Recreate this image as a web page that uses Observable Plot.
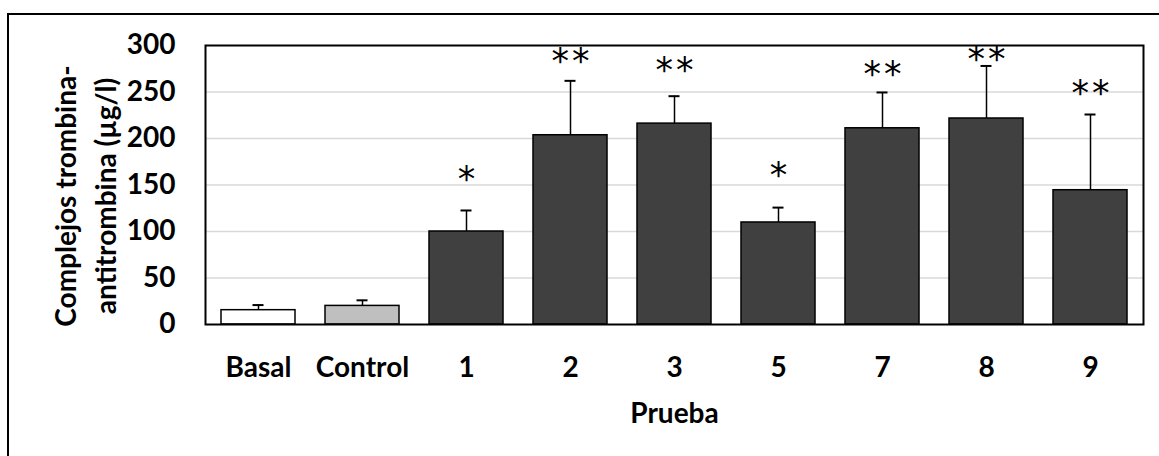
<!DOCTYPE html>
<html><head><meta charset="utf-8">
<script src="https://cdn.jsdelivr.net/npm/d3@7"></script>
<script src="https://cdn.jsdelivr.net/npm/@observablehq/plot@0.6"></script>
<style>
html,body{margin:0;padding:0;background:#fff;}
#wrap{position:relative;width:1159px;height:456px;overflow:hidden;background:#fff;}
#border{position:absolute;left:7px;top:13px;width:1200px;height:500px;border:2px solid #000;box-sizing:border-box;}
#chart{position:absolute;left:0;top:0;}
.sig text{letter-spacing:3px;}
</style></head><body>
<div id="wrap"><div id="border"></div><div id="chart"></div></div>
<script>
const categories = ["Basal", "Control", "1", "2", "3", "5", "7", "8", "9"];
const groups = ["Basal", "Control", "Prueba", "Prueba", "Prueba", "Prueba", "Prueba", "Prueba", "Prueba"];
const means = [15.4, 20, 100, 203.5, 216, 109.7, 211, 221.5, 144.4];
const errors = [5.5, 6, 22.6, 58.5, 29.5, 16, 38.5, 56.5, 81.4];
const sigLabels = ["", "", "*", "**", "**", "*", "**", "**", "**"];
const sigY = [null, null, 164, 291, 281, 169, 277, 293, 257];
const yTicks = [0, 50, 100, 150, 200, 250, 300];
const gridTicks = [50, 100, 150, 200, 250];
const xTitle = "Prueba";
const yTitle = "Complejos trombina-\nantitrombina (µg/l)";

const data = categories.map((c, i) => ({
  cat: c, group: groups[i], mean: means[i], err: errors[i],
  top: means[i] + errors[i], sig: sigLabels[i], sigY: sigY[i]
}));
const sigData = data.filter(d => d.sig);

const chart = Plot.plot({
  width: 1159,
  height: 456,
  marginLeft: 205,
  marginRight: 16,
  marginTop: 45,
  marginBottom: 132,
  style: {fontFamily: "Lato", fontWeight: "bold", fontSize: "28px", color: "#000", background: "transparent", overflow: "visible"},
  x: {domain: categories, paddingInner: 0.284, paddingOuter: 0.142},
  y: {domain: [0, 300]},
  color: {domain: ["Basal", "Control", "Prueba"], range: ["#ffffff", "#bfbfbf", "#404040"]},
  marks: [
    Plot.gridY(gridTicks, {stroke: "#d9d9d9", strokeOpacity: 1, strokeWidth: 1.5}),
    Plot.barY(data, {x: "cat", y: "mean", fill: "group", stroke: "#000", strokeWidth: 1.5}),
    Plot.ruleX(data, {x: "cat", y1: "mean", y2: "top", stroke: "#000", strokeWidth: 1.5}),
    Plot.tickY(data, {x: "cat", y: "top", insetLeft: 31.5, insetRight: 31.5, stroke: "#000", strokeWidth: 2}),
    Plot.text(sigData, {x: "cat", y: "sigY", text: "sig", className: "sig", fontFamily: "DejaVu Sans", fontWeight: "normal", fontSize: 35, lineAnchor: "middle", dy: 8, dx: 1.5, fill: "#000"}),
    Plot.axisY({ticks: yTicks, tickSize: 0, tickPadding: 30, label: null}),
    Plot.axisX({tickSize: 0, tickPadding: 33, label: null}),
    Plot.text([xTitle], {frameAnchor: "bottom", lineAnchor: "top", dy: 79, fill: "#000"}),
    Plot.text([yTitle], {frameAnchor: "left", rotate: -90, textAnchor: "middle", lineAnchor: "middle", lineHeight: 1.43, dx: -122, dy: 11, fill: "#000"}),
    Plot.frame({stroke: "#000", strokeWidth: 2})
  ]
});
document.getElementById("chart").appendChild(chart);
</script>
</body></html>
